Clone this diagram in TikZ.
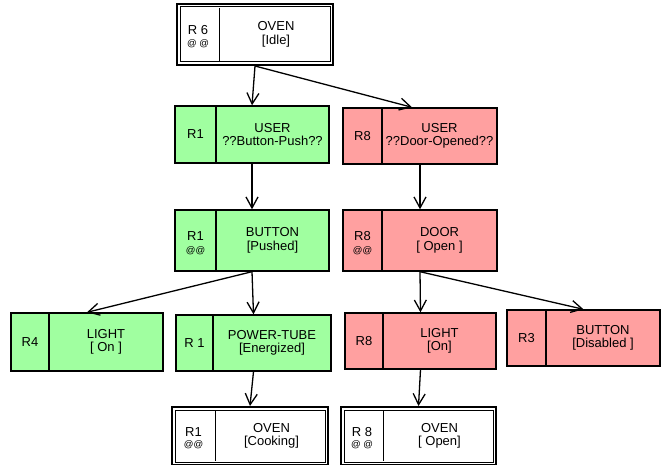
\documentclass[tikz,border=0pt]{standalone}
\usepackage{fontspec}
\setmainfont{Liberation Sans}
\usetikzlibrary{fit,arrows.meta}
\definecolor{stategreen}{HTML}{A0FFA0}
\definecolor{statered}{HTML}{FFA0A0}

\begin{document}
\begin{tikzpicture}[
  x=1pt, y=-1pt,
  box/.style={draw=black, line width=1.4pt, inner sep=0pt},
  outerbox/.style={draw=black, line width=2pt, inner sep=0pt, fill=white},
  innerline/.style={draw=black, line width=1pt},
  divider/.style={draw=black, line width=1.4pt},
  flow/.style={-{Straight Barb[length=11pt,width=12pt]}, line width=1.3pt},
  ridlbl/.style={font=\fontsize{13}{14}\selectfont, inner sep=0pt},
  marklbl/.style={font=\fontsize{9.5}{10}\selectfont, inner sep=0pt},
  statelbl/.style={font=\fontsize{13}{13.5}\selectfont, inner sep=0pt, align=center},
]
\useasboundingbox (0,0) rectangle (661,465);
% ---------- plain state boxes: name/x1/y1/x2/y2/divider/fill/rule/mark/object/state ----------
\foreach \nm/\xa/\ya/\xb/\yb/\xd/\col/\rid/\mk/\obj/\stat in {%
  userg/175/106/329/163/216/stategreen/R1//USER/??Button-Push??,
  userr/343/108/497/164/382/statered/R8//USER/??Door-Opened??,
  buttong/175/210/329/271/216/stategreen/R1/@@/BUTTON/[Pushed],
  door/343/210/497/271/382/statered/R8/@@/DOOR/[ Open ],
  lightg/11/313/163/371/49/stategreen/R4//LIGHT/[ On ],
  tube/176/315/331/371/213/stategreen/R 1//POWER-TUBE/[Energized],
  lightr/345/313/496/369/383/statered/R8//LIGHT/[On],
  buttonr/507/310/660/366/546/statered/R3//BUTTON/[Disabled ]%
} {
  \pgfmathsetmacro{\cy}{(\ya+\yb)/2}
  \pgfmathsetmacro{\cx}{(\xd+\xb)/2}
  \pgfmathsetmacro{\lx}{(\xa+\xd)/2}
  \node[box, fill=\col, fit={(\xa,\ya) (\xb,\yb)}] (\nm) {};
  \draw[divider] (\xd,\ya) -- (\xd,\yb);
  \node[statelbl] at (\cx,\cy) {\obj\\\relax\stat};
  \ifx\mk\empty
    \node[ridlbl] at (\lx,\cy) {\rid};
  \else
    \node[ridlbl] at (\lx,\cy-4.5) {\rid};
    \node[marklbl] at (\lx,\cy+10) {\mk};
  \fi
}
% ---------- oven boxes (double border) ----------
\foreach \nm/\xa/\ya/\xb/\yb/\xd/\rid/\mk/\stat in {%
  ovenidle/177/4/333/65/219/R 6/@ @/[Idle],
  ovencook/172/407/328/465/215/R1/@@/[Cooking],
  ovenopen/341/407/496/465/383/R 8/@ @/[ Open]%
} {
  \pgfmathsetmacro{\cy}{(\ya+\yb)/2}
  \pgfmathsetmacro{\cx}{(\xd+\xb)/2}
  \pgfmathsetmacro{\lx}{(\xa+\xd)/2}
  \node[outerbox, fit={(\xa,\ya) (\xb,\yb)}] (\nm) {};
  \draw[innerline] ([shift={(4pt,-4pt)}]\nm.north west) rectangle ([shift={(-4pt,4pt)}]\nm.south east);
  \draw[innerline] (\xd,\ya+4) -- (\xd,\yb-4);
  \node[statelbl] at (\cx,\cy) {OVEN\\\relax\stat};
  \node[ridlbl] at (\lx,\cy-4) {\rid};
  \node[marklbl] at (\lx,\cy+9) {\mk};
}
% ---------- transitions ----------
\draw[flow] (ovenidle.south) -- (userg.north);
\draw[flow] (ovenidle.south) -- ([xshift=-8pt]userr.north);
\draw[flow] (userg.south) -- (buttong.north);
\draw[flow] (buttong.south) -- (lightg.north);
\draw[flow] (buttong.south) -- (tube.north);
\draw[flow] (tube.south) -- (ovencook.north);
\draw[flow] (userr.south) -- (door.north);
\draw[flow] (door.south) -- (lightr.north);
\draw[flow] (door.south) -- (buttonr.north);
\draw[flow] (lightr.south) -- (ovenopen.north);
\end{tikzpicture}
\end{document}
